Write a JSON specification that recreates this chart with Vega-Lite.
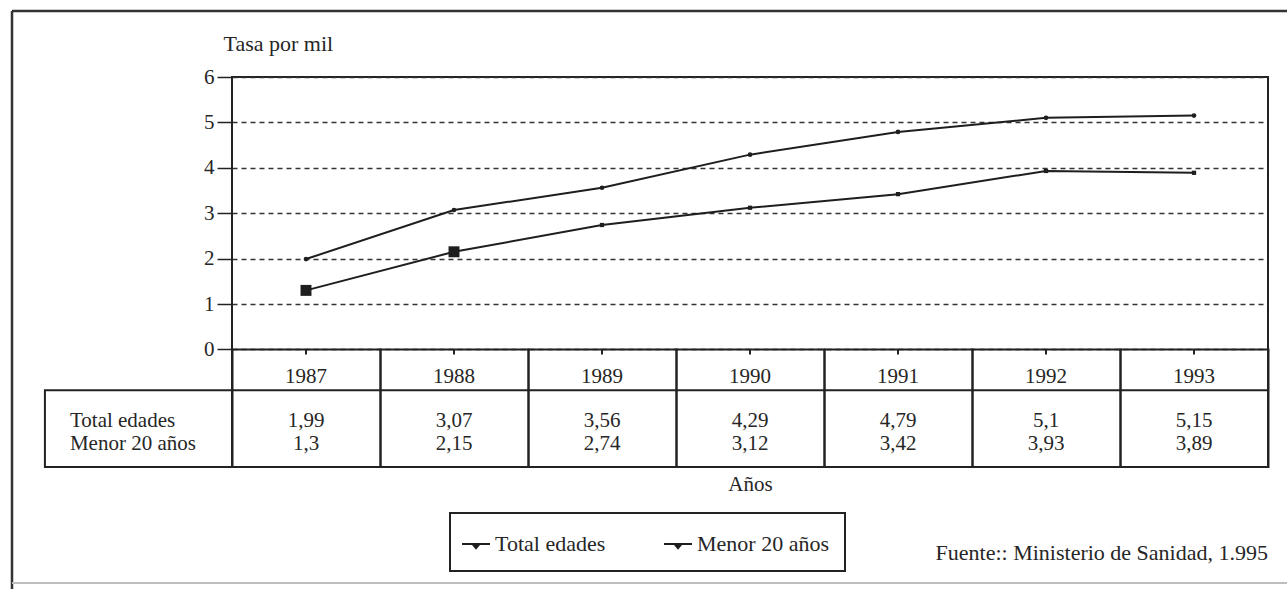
{
  "$schema": "https://vega.github.io/schema/vega-lite/v6.json",
  "width": 1036,
  "height": 390,
  "autosize": {"type": "none"},
  "padding": {"left": 232, "top": 77, "right": 19, "bottom": 122},
  "background": "white",
  "config": {
    "locale": {"number": {"decimal": ",", "thousands": ".", "grouping": [3], "currency": ["", " €"]}},
    "font": "Liberation Serif",
    "view": {"stroke": "#222", "strokeWidth": 2},
    "legend": {"strokeWidth": 2},
    "text": {"font": "Liberation Serif", "fontSize": 21, "color": "#262626"}
  },
  "datasets": {
    "tasas": [
      {"anio": 1987, "serie": "Total edades", "tasa": 1.99},
      {"anio": 1988, "serie": "Total edades", "tasa": 3.07},
      {"anio": 1989, "serie": "Total edades", "tasa": 3.56},
      {"anio": 1990, "serie": "Total edades", "tasa": 4.29},
      {"anio": 1991, "serie": "Total edades", "tasa": 4.79},
      {"anio": 1992, "serie": "Total edades", "tasa": 5.1},
      {"anio": 1993, "serie": "Total edades", "tasa": 5.15},
      {"anio": 1987, "serie": "Menor 20 años", "tasa": 1.3},
      {"anio": 1988, "serie": "Menor 20 años", "tasa": 2.15},
      {"anio": 1989, "serie": "Menor 20 años", "tasa": 2.74},
      {"anio": 1990, "serie": "Menor 20 años", "tasa": 3.12},
      {"anio": 1991, "serie": "Menor 20 años", "tasa": 3.42},
      {"anio": 1992, "serie": "Menor 20 años", "tasa": 3.93},
      {"anio": 1993, "serie": "Menor 20 años", "tasa": 3.89}
    ]
  },
  "data": {"name": "tasas"},
  "layer": [
    {
      "mark": {"type": "line", "strokeWidth": 2},
      "encoding": {
        "x": {
          "field": "anio", "type": "quantitative",
          "scale": {"domain": [1986.5, 1993.5], "nice": false, "zero": false},
          "axis": {"title": "Años", "labels": false, "ticks": false, "domain": false, "grid": false,
                   "titleFont": "Liberation Serif", "titleFontSize": 21, "titleFontWeight": "normal",
                   "titleColor": "#262626", "titlePadding": 6}
        },
        "y": {
          "field": "tasa", "type": "quantitative",
          "scale": {"domain": [-2.59, 6], "nice": false, "zero": false},
          "axis": {"title": "Tasa por mil", "values": [0, 1, 2, 3, 4, 5, 6], "domain": false,
                   "grid": true, "gridDash": [5, 4], "gridColor": "#333", "gridWidth": 1.5,
                   "tickSize": 15, "tickColor": "#222", "tickWidth": 1.5, "labelPadding": 3,
                   "labelFont": "Liberation Serif", "labelFontSize": 21, "labelColor": "#262626",
                   "titleAngle": 0, "titleAlign": "left", "titleBaseline": "alphabetic",
                   "titleX": -9, "titleY": -27, "titleFont": "Liberation Serif", "titleFontSize": 22,
                   "titleFontWeight": "normal", "titleColor": "#262626"}
        },
        "color": {
          "field": "serie", "type": "nominal",
          "scale": {"domain": ["Total edades", "Menor 20 años"], "range": ["#1e1e1e", "#1e1e1e"]},
          "legend": {"title": null, "orient": "none", "legendX": 218, "legendY": 436,
                     "direction": "horizontal", "strokeColor": "#222", "padding": 16,
                     "symbolType": "M-1,0H1M-0.25,0L0.25,0L0,0.3Z", "symbolSize": 784,
                     "symbolStrokeWidth": 2, "symbolFillColor": "#1e1e1e", "symbolOffset": -5,
                     "labelFont": "Liberation Serif", "labelFontSize": 22, "labelColor": "#262626",
                     "labelOffset": 4, "columnPadding": 54, "labelLimit": 300}
        }
      }
    },
    {
      "data": {"values": [{}]},
      "mark": {"type": "rule", "color": "#333", "strokeWidth": 2.5},
      "encoding": {
        "x": {"datum": 1985.0135, "type": "quantitative"},
        "x2": {"datum": 1994.0},
        "y": {"datum": 7.4537, "type": "quantitative"}
      }
    },
    {
      "data": {"values": [{}]},
      "mark": {"type": "rule", "color": "#333", "strokeWidth": 2.5},
      "encoding": {
        "x": {"datum": 1985.0135, "type": "quantitative"},
        "y": {"datum": 7.4537, "type": "quantitative"},
        "y2": {"datum": -5.4}
      }
    },
    {
      "data": {"values": [{}]},
      "mark": {"type": "rule", "color": "#bdbdbd", "strokeWidth": 2},
      "encoding": {
        "x": {"datum": 1985.0135, "type": "quantitative"},
        "x2": {"datum": 1994.0},
        "y": {"datum": -5.145, "type": "quantitative"}
      }
    },
    {
      "transform": [{"filter": "datum.serie === 'Total edades'"}],
      "mark": {"type": "bar", "binSpacing": 0, "fillOpacity": 0, "stroke": "#222", "strokeWidth": 2},
      "encoding": {
        "x": {"field": "anio", "type": "quantitative", "bin": {"step": 1, "anchor": 1986.5, "extent": [1986.5, 1993.5], "nice": false}},
        "y": {"datum": 0, "type": "quantitative"},
        "y2": {"datum": -2.59}
      }
    },
    {
      "data": {"values": [{}]},
      "mark": {"type": "rect", "fillOpacity": 0, "stroke": "#222", "strokeWidth": 2},
      "encoding": {
        "x": {"datum": 1985.236, "type": "quantitative"},
        "x2": {"datum": 1986.5},
        "y": {"datum": -0.9, "type": "quantitative"},
        "y2": {"datum": -2.59}
      }
    },
    {
      "data": {"values": [{}]},
      "mark": {"type": "rule", "color": "#222", "strokeWidth": 2},
      "encoding": {
        "x": {"datum": 1986.5, "type": "quantitative"},
        "x2": {"datum": 1993.5},
        "y": {"datum": -0.9, "type": "quantitative"}
      }
    },
    {
      "transform": [{"filter": "datum.serie === 'Total edades'"}],
      "mark": {"type": "rule", "color": "#222", "strokeWidth": 2},
      "encoding": {
        "x": {"field": "anio", "type": "quantitative"},
        "y": {"datum": 0, "type": "quantitative"},
        "y2": {"datum": -0.11}
      }
    },
    {
      "transform": [{"filter": "datum.serie === 'Total edades'"}],
      "mark": {"type": "point", "shape": "circle", "filled": true, "size": 22, "color": "#1e1e1e", "opacity": 1},
      "encoding": {
        "x": {"field": "anio", "type": "quantitative"},
        "y": {"field": "tasa", "type": "quantitative"}
      }
    },
    {
      "transform": [{"filter": "datum.serie === 'Menor 20 años' && datum.anio > 1988"}],
      "mark": {"type": "point", "shape": "square", "filled": true, "size": 18, "color": "#1e1e1e", "opacity": 1},
      "encoding": {
        "x": {"field": "anio", "type": "quantitative"},
        "y": {"field": "tasa", "type": "quantitative"}
      }
    },
    {
      "transform": [{"filter": "datum.serie === 'Menor 20 años' && datum.anio <= 1988"}],
      "mark": {"type": "point", "shape": "square", "filled": true, "size": 120, "color": "#1e1e1e", "opacity": 1},
      "encoding": {
        "x": {"field": "anio", "type": "quantitative"},
        "y": {"field": "tasa", "type": "quantitative"}
      }
    },
    {
      "transform": [{"filter": "datum.serie === 'Total edades'"}],
      "mark": {"type": "text", "align": "center", "baseline": "alphabetic"},
      "encoding": {
        "x": {"field": "anio", "type": "quantitative"},
        "y": {"datum": -0.75, "type": "quantitative"},
        "text": {"field": "anio", "type": "ordinal"}
      }
    },
    {
      "transform": [{"filter": "datum.serie === 'Total edades'"}],
      "mark": {"type": "text", "align": "center", "baseline": "alphabetic"},
      "encoding": {
        "x": {"field": "anio", "type": "quantitative"},
        "y": {"datum": -1.71, "type": "quantitative"},
        "text": {"field": "tasa", "type": "quantitative", "format": "~g"}
      }
    },
    {
      "transform": [{"filter": "datum.serie === 'Menor 20 años'"}],
      "mark": {"type": "text", "align": "center", "baseline": "alphabetic"},
      "encoding": {
        "x": {"field": "anio", "type": "quantitative"},
        "y": {"datum": -2.22, "type": "quantitative"},
        "text": {"field": "tasa", "type": "quantitative", "format": "~g"}
      }
    },
    {
      "transform": [{"filter": "datum.serie === 'Total edades' && datum.anio === 1987"}],
      "mark": {"type": "text", "align": "left", "baseline": "alphabetic"},
      "encoding": {
        "x": {"datum": 1985.405, "type": "quantitative"},
        "y": {"datum": -1.71, "type": "quantitative"},
        "text": {"field": "serie", "type": "nominal"}
      }
    },
    {
      "transform": [{"filter": "datum.serie === 'Menor 20 años' && datum.anio === 1987"}],
      "mark": {"type": "text", "align": "left", "baseline": "alphabetic"},
      "encoding": {
        "x": {"datum": 1985.405, "type": "quantitative"},
        "y": {"datum": -2.22, "type": "quantitative"},
        "text": {"field": "serie", "type": "nominal"}
      }
    },
    {
      "data": {"values": [{}]},
      "mark": {"type": "text", "align": "right", "baseline": "alphabetic", "fontSize": 22, "text": "Fuente:: Ministerio de Sanidad, 1.995"},
      "encoding": {
        "x": {"datum": 1993.5, "type": "quantitative"},
        "y": {"datum": -4.64, "type": "quantitative"}
      }
    }
  ]
}
